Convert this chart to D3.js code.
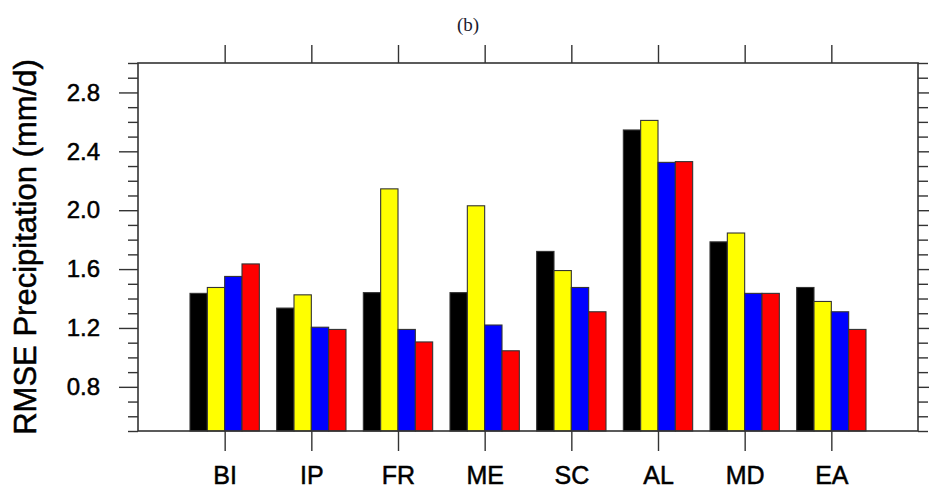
<!DOCTYPE html>
<html>
<head>
<meta charset="utf-8">
<script src="https://cdn.jsdelivr.net/npm/d3@7"></script>
<style>
  html, body { margin: 0; padding: 0; background: #fff; }
  svg { display: block; }
</style>
</head>
<body>
<svg id="chart" width="929" height="494"></svg>
<script>
// Regions and RMSE of precipitation (mm/d) for four model runs
const regions = ["BI", "IP", "FR", "ME", "SC", "AL", "MD", "EA"];
const seriesNames = ["run1", "run2", "run3", "run4"];
const seriesColors = ["#000000", "#ffff00", "#0000ff", "#ff0000"];
const run1 = [1.435, 1.335, 1.44, 1.44, 1.72, 2.545, 1.785, 1.475];
const run2 = [1.475, 1.425, 2.145, 2.03, 1.59, 2.61, 1.845, 1.38];
const run3 = [1.55, 1.205, 1.19, 1.22, 1.475, 2.325, 1.435, 1.31];
const run4 = [1.635, 1.19, 1.105, 1.045, 1.31, 2.33, 1.435, 1.19];
const seriesValues = [run1, run2, run3, run4];
const yMajorTicks = [0.8, 1.2, 1.6, 2.0, 2.4, 2.8];
const yTitle = "RMSE Precipitation (mm/d)";
const panelLabel = "(b)";

const svg = d3.select("#chart");
const plotLeft = 138, plotRight = 918, plotTop = 63, plotBottom = 431;
const frameColor = "#333";
const sansFont = "'Liberation Sans', Arial, Helvetica, sans-serif";

// Categories sit at integer positions 1..8 on a 0..9 axis
const x = d3.scaleLinear().domain([0, regions.length + 1]).range([plotLeft, plotRight]);
const y = d3.scaleLinear().domain([0.5, 3.0]).range([plotBottom, plotTop]);

const step = x(1) - x(0);
const inner = d3.scaleBand()
  .domain(seriesNames)
  .range([-0.4 * step, 0.4 * step])
  .padding(0);

const yMinorTicks = d3.range(5, 31).map(v => v / 10)
  .filter(v => !yMajorTicks.some(m => Math.abs(m - v) < 1e-6));

// Bars
const groups = svg.append("g").selectAll("g")
  .data(regions)
  .join("g")
  .attr("transform", (d, i) => `translate(${x(i + 1)},0)`);

groups.selectAll("rect")
  .data((d, i) => seriesNames.map((s, k) => ({ s, k, v: seriesValues[k][i] })))
  .join("rect")
  .attr("x", d => inner(d.s))
  .attr("width", inner.bandwidth())
  .attr("y", d => y(d.v))
  .attr("height", d => y(0.5) - y(d.v))
  .attr("fill", d => seriesColors[d.k])
  .attr("stroke", frameColor)
  .attr("stroke-width", 1.1);

function styleAxis(g) {
  g.select(".domain").remove();
  g.selectAll(".tick line").attr("stroke", frameColor).attr("stroke-width", 1.4);
}

// Slightly heavier text strokes, like the plotting package's Helvetica
function heavyText(sel, size) {
  sel.attr("font-family", sansFont)
    .attr("font-size", size)
    .attr("fill", "#000")
    .attr("stroke", "#000")
    .attr("stroke-width", 0.5);
}

// Left axis: labelled major ticks and minor ticks, pointing outward
svg.append("g")
  .attr("transform", `translate(${plotLeft},0)`)
  .call(d3.axisLeft(y).tickValues(yMinorTicks).tickSize(10).tickFormat(""))
  .call(styleAxis);
svg.append("g")
  .attr("transform", `translate(${plotLeft},0)`)
  .call(d3.axisLeft(y).tickValues(yMajorTicks).tickSize(19).tickPadding(19)
    .tickFormat(d3.format(".1f")))
  .call(styleAxis)
  .call(g => heavyText(g.selectAll("text"), 24));

// Right axis mirrors the left ticks
svg.append("g")
  .attr("transform", `translate(${plotRight},0)`)
  .call(d3.axisRight(y).tickValues(yMinorTicks).tickSize(10).tickFormat(""))
  .call(styleAxis);
svg.append("g")
  .attr("transform", `translate(${plotRight},0)`)
  .call(d3.axisRight(y).tickValues(yMajorTicks).tickSize(19).tickFormat(""))
  .call(styleAxis);

// Bottom axis with region names
const xTicks = regions.map((d, i) => i + 1);
svg.append("g")
  .attr("transform", `translate(0,${plotBottom})`)
  .call(d3.axisBottom(x).tickValues(xTicks).tickSize(20).tickPadding(15)
    .tickFormat(d => regions[d - 1]))
  .call(styleAxis)
  .call(g => heavyText(g.selectAll("text"), 25));

// Top axis ticks only
svg.append("g")
  .attr("transform", `translate(0,${plotTop})`)
  .call(d3.axisTop(x).tickValues(xTicks).tickSize(18).tickFormat(""))
  .call(styleAxis);

// Plot frame
svg.append("rect")
  .attr("x", plotLeft).attr("y", plotTop)
  .attr("width", plotRight - plotLeft).attr("height", plotBottom - plotTop)
  .attr("fill", "none")
  .attr("stroke", frameColor)
  .attr("stroke-width", 1.6);

// Y axis title
svg.append("text")
  .attr("transform", `translate(36,${(52 + 442) / 2}) rotate(-90)`)
  .attr("text-anchor", "middle")
  .call(t => heavyText(t, 31))
  .text(yTitle);

// Panel label
svg.append("text")
  .attr("x", 468).attr("y", 31)
  .attr("text-anchor", "middle")
  .attr("font-family", "'Liberation Serif', 'Times New Roman', serif")
  .attr("font-size", 19)
  .attr("fill", "#1a1a2e")
  .text(panelLabel);
</script>
</body>
</html>
